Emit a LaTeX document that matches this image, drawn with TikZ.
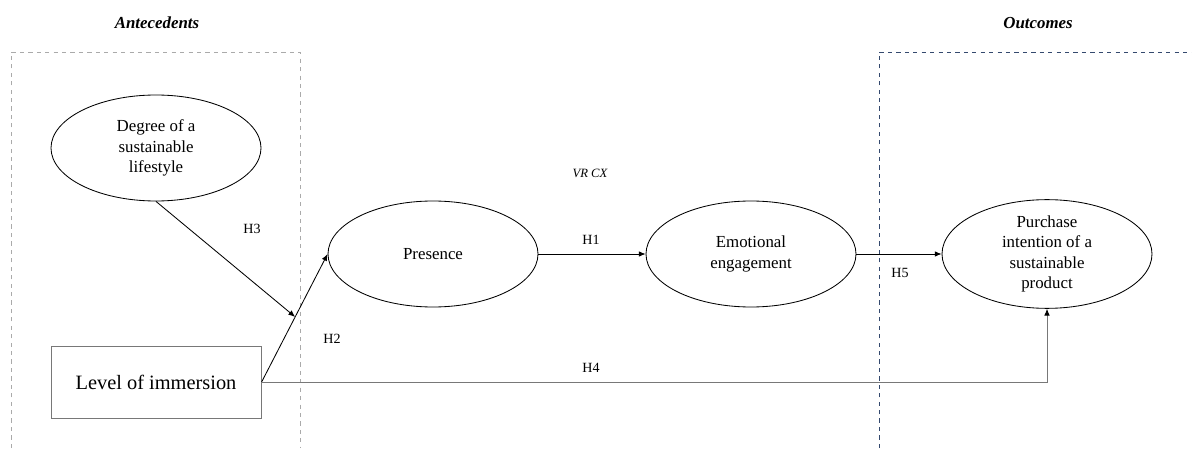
\documentclass[tikz,border=0pt]{standalone}
\usepackage{fontspec}
\setmainfont{Liberation Serif}
\usepackage{tikz}
\usetikzlibrary{arrows.meta,positioning,calc,shapes.geometric}
\definecolor{bordant}{RGB}{170,170,170}
\definecolor{bordout}{HTML}{34496E}
\definecolor{grisL}{RGB}{120,120,120}
\tikzset{
  construct/.style={ellipse, draw=black, line width=0.6pt, align=center, inner sep=0pt,
                    minimum width=5.25cm, minimum height=2.65cm,
                    font=\fontsize{12}{14.6}\selectfont},
  boxvar/.style={rectangle, draw=grisL, line width=0.6pt, inner sep=0pt,
                 minimum width=5.25cm, minimum height=1.82cm,
                 font=\fontsize{14.5}{17}\selectfont},
  arr/.style={-{Latex[length=1.7mm,width=1.4mm,black]}, line width=0.6pt, draw=black},
  hyp/.style={font=\fontsize{10}{12}\selectfont, inner sep=0pt},
  zone/.style={dashed, line width=0.6pt, draw=#1},
  titre/.style={font=\fontsize{12}{14}\selectfont\bfseries\itshape},
}
\begin{document}
\begin{tikzpicture}
  \useasboundingbox (0,0) rectangle (29.8,11.2);
  % zones
  \draw[zone=bordant] (0.275,0) |- (7.5,9.9) -- (7.5,0);
  \draw[zone=bordout] (21.975,0) |- (29.8,9.9);
  \node[titre] (ant) at (3.925,10.62) {Antecedents};
  \node[titre] (out) at (25.95,10.62) {Outcomes};

  % constructs
  \node[construct] (deg) at (3.9,7.5) {Degree of a\\sustainable\\lifestyle};
  \node[boxvar] (imm) at (3.9,1.64) {Level of immersion};
  \node[construct] (pres) at (10.825,4.85) {Presence};
  \node[construct] (emo) at (18.775,4.85) {Emotional\\engagement};
  \node[construct] (pur) at (26.175,4.85) {Purchase\\intention of a\\sustainable\\product};
  \node[font=\fontsize{9}{11}\selectfont\itshape] (vrcx) at (14.75,6.875) {VR CX};

  % paths
  \coordinate (mod) at ($(imm.east)!0.51!(pres.west)$);
  \draw[arr] (imm.east) -- (pres.west);
  \draw[arr] (deg.south) -- (mod);
  \draw[arr] (pres.east) -- (emo.west);
  \draw[arr] (emo.east) -- (pur.west);
  \draw[arr, draw=grisL] (imm.east) -| (pur.south);

  \node[hyp] (h1) at (14.775,5.2) {H1};
  \node[hyp] (h2) at (8.3,2.725) {H2};
  \node[hyp] (h3) at (6.3,5.475) {H3};
  \node[hyp] (h4) at (14.775,2.0) {H4};
  \node[hyp] (h5) at (22.5,4.375) {H5};
\end{tikzpicture}
\end{document}
